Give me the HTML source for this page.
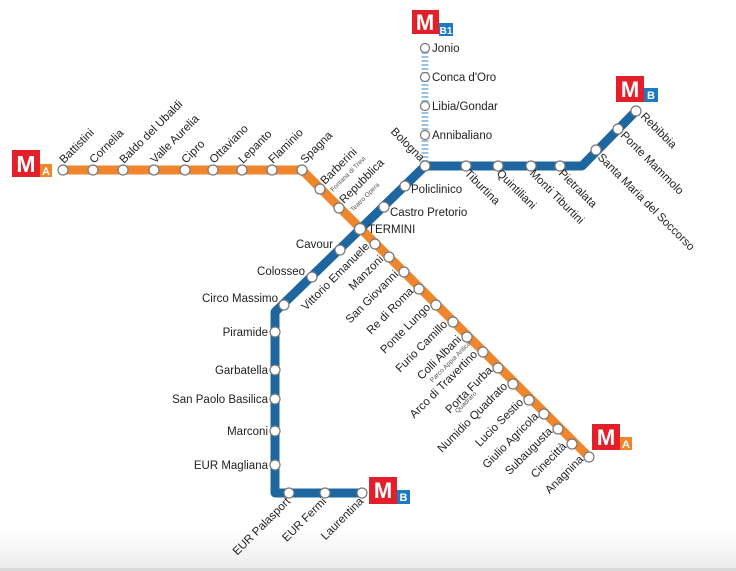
<!DOCTYPE html>
<html><head><meta charset="utf-8"><style>
html,body{margin:0;padding:0;background:#fff;}
svg{display:block;}
text{font-family:"Liberation Sans",Arial,sans-serif;fill:#222;}
</style></head><body>
<svg width="736" height="571" viewBox="0 0 736 571" xmlns="http://www.w3.org/2000/svg">
<defs>
<linearGradient id="bg" x1="0" y1="0" x2="0" y2="1">
<stop offset="0" stop-color="#fff"/><stop offset="1" stop-color="#ececec"/>
</linearGradient>
</defs>
<rect x="0" y="530" width="736" height="38" fill="url(#bg)"/>
<rect x="0" y="568" width="736" height="3" fill="#d8d8d8"/>

<!-- B1 dashed -->
<line x1="425" y1="48" x2="425" y2="166" stroke="#9cc3de" stroke-width="7" stroke-dasharray="2,2"/>

<!-- Line A -->
<polyline points="63,170 302,170 589,457" fill="none" stroke="#f0862c" stroke-width="9" stroke-linejoin="round"/>
<!-- Line B -->
<polyline points="362,493 275,493 275,312 425,166 582,166 636,111" fill="none" stroke="#1d66a0" stroke-width="9" stroke-linejoin="round"/>

<g fill="#fff" stroke="#777" stroke-width="1.2">
<circle cx="63" cy="170" r="5"/><circle cx="93" cy="170" r="5"/><circle cx="123" cy="170" r="5"/><circle cx="154" cy="170" r="5"/><circle cx="185" cy="170" r="5"/><circle cx="213" cy="170" r="5"/><circle cx="242" cy="170" r="5"/><circle cx="272" cy="170" r="5"/><circle cx="302" cy="170" r="5"/>
<circle cx="320" cy="189" r="5"/><circle cx="339" cy="208" r="5"/><circle cx="360" cy="229" r="5.5"/>
<circle cx="375" cy="244" r="5"/><circle cx="389" cy="257" r="5"/><circle cx="404" cy="272" r="5"/><circle cx="419" cy="289" r="5"/><circle cx="436" cy="305" r="5"/><circle cx="453" cy="322" r="5"/><circle cx="467" cy="337" r="5"/><circle cx="483" cy="352" r="5"/><circle cx="498" cy="368" r="5"/><circle cx="513" cy="384" r="5"/><circle cx="529" cy="400" r="5"/><circle cx="544" cy="414" r="5"/><circle cx="558" cy="429" r="5"/><circle cx="572" cy="444" r="5"/><circle cx="589" cy="457" r="5"/>
<circle cx="340" cy="250" r="5"/><circle cx="312" cy="277" r="5"/><circle cx="284" cy="305" r="5"/>
<circle cx="275" cy="332" r="5"/><circle cx="275" cy="370" r="5"/><circle cx="275" cy="399" r="5"/><circle cx="275" cy="431" r="5"/><circle cx="275" cy="465" r="5"/>
<circle cx="289" cy="493" r="5"/><circle cx="325" cy="493" r="5"/><circle cx="362" cy="493" r="5"/>
<circle cx="384" cy="207" r="5"/><circle cx="405" cy="186" r="5"/><circle cx="425" cy="166" r="5"/>
<circle cx="466" cy="166" r="5"/><circle cx="498" cy="166" r="5"/><circle cx="531" cy="166" r="5"/><circle cx="560" cy="166" r="5"/>
<circle cx="596" cy="150" r="5"/><circle cx="618" cy="129" r="5"/><circle cx="636" cy="111" r="5"/>
<circle cx="425" cy="48" r="4.5"/><circle cx="425" cy="77" r="4.5"/><circle cx="425" cy="106" r="4.5"/><circle cx="425" cy="135" r="4.5"/>
</g>

<g font-family="Liberation Sans,Arial,sans-serif" font-weight="bold">
<rect x="12" y="150" width="28" height="27" fill="#e3202a"/><text x="26" y="172" text-anchor="middle" font-size="23" style="fill:#fff">M</text>
<rect x="40" y="164" width="12" height="13" fill="#f0862c"/><text x="46" y="175" text-anchor="middle" font-size="11" style="fill:#fff">A</text>
<rect x="412" y="10" width="27" height="24" fill="#e3202a"/><text x="425" y="30" text-anchor="middle" font-size="22" style="fill:#fff">M</text>
<rect x="439" y="23" width="14" height="13" fill="#1d7ac0"/><text x="446" y="34" text-anchor="middle" font-size="10" style="fill:#fff">B1</text>
<rect x="616" y="76" width="28" height="26" fill="#e3202a"/><text x="630" y="97" text-anchor="middle" font-size="22" style="fill:#fff">M</text>
<rect x="644" y="88" width="14" height="14" fill="#1d7ac0"/><text x="651" y="99" text-anchor="middle" font-size="11" style="fill:#fff">B</text>
<rect x="592" y="424" width="28" height="26" fill="#e3202a"/><text x="606" y="445" text-anchor="middle" font-size="22" style="fill:#fff">M</text>
<rect x="620" y="437" width="12" height="13" fill="#f0862c"/><text x="626" y="448" text-anchor="middle" font-size="11" style="fill:#fff">A</text>
<rect x="369" y="477" width="28" height="27" fill="#e3202a"/><text x="383" y="498" text-anchor="middle" font-size="22" style="fill:#fff">M</text>
<rect x="397" y="490" width="13" height="14" fill="#1d7ac0"/><text x="403.5" y="501" text-anchor="middle" font-size="11" style="fill:#fff">B</text>
</g>

<g font-size="11.5">
<text transform="translate(64,164) rotate(-45)">Battistini</text>
<text transform="translate(94,164) rotate(-45)">Cornelia</text>
<text transform="translate(124,164) rotate(-45)">Baldo del Ubaldi</text>
<text transform="translate(155,164) rotate(-45)">Valle Aurelia</text>
<text transform="translate(186,164) rotate(-45)">Cipro</text>
<text transform="translate(214,164) rotate(-45)">Ottaviano</text>
<text transform="translate(243,164) rotate(-45)">Lepanto</text>
<text transform="translate(273,164) rotate(-45)">Flaminio</text>
<text transform="translate(305,164) rotate(-45)">Spagna</text>
<text transform="translate(325,185) rotate(-45)">Barberini</text>
<text transform="translate(333,192) rotate(-45)" font-size="6.5" style="fill:#555">Fontana di Trevi</text>
<text transform="translate(344,204) rotate(-45)">Repubblica</text>
<text transform="translate(353,212) rotate(-45)" font-size="6.5" style="fill:#555">Teatro Opera</text>
<text x="368" y="233">TERMINI</text>
<text transform="translate(370,247) rotate(-45)" text-anchor="end">Vittorio Emanuele</text>
<text transform="translate(384,260) rotate(-45)" text-anchor="end">Manzoni</text>
<text transform="translate(399,275) rotate(-45)" text-anchor="end">San Giovanni</text>
<text transform="translate(414,292) rotate(-45)" text-anchor="end">Re di Roma</text>
<text transform="translate(431,308) rotate(-45)" text-anchor="end">Ponte Lungo</text>
<text transform="translate(448,325) rotate(-45)" text-anchor="end">Furio Camillo</text>
<text transform="translate(462,340) rotate(-45)" text-anchor="end">Colli Albani</text>
<text transform="translate(471,344) rotate(-45)" text-anchor="end" font-size="6.5" style="fill:#555">Parco Appia Antica</text>
<text transform="translate(478,355) rotate(-45)" text-anchor="end">Arco di Travertino</text>
<text transform="translate(493,371) rotate(-45)" text-anchor="end">Porta Furba</text>
<text transform="translate(477,394) rotate(-45)" text-anchor="end" font-size="6.5" style="fill:#555">Quadraro</text>
<text transform="translate(508,387) rotate(-45)" text-anchor="end">Numidio Quadrato</text>
<text transform="translate(524,403) rotate(-45)" text-anchor="end">Lucio Sestio</text>
<text transform="translate(539,417) rotate(-45)" text-anchor="end">Giulio Agricola</text>
<text transform="translate(553,432) rotate(-45)" text-anchor="end">Subaugusta</text>
<text transform="translate(567,447) rotate(-45)" text-anchor="end">Cinecittà</text>
<text transform="translate(584,460) rotate(-45)" text-anchor="end">Anagnina</text>
<text x="333" y="248" text-anchor="end">Cavour</text>
<text x="305" y="275" text-anchor="end">Colosseo</text>
<text x="278" y="302" text-anchor="end">Circo Massimo</text>
<text x="268" y="336" text-anchor="end">Piramide</text>
<text x="268" y="374" text-anchor="end">Garbatella</text>
<text x="268" y="403" text-anchor="end">San Paolo Basilica</text>
<text x="268" y="435" text-anchor="end">Marconi</text>
<text x="268" y="469" text-anchor="end">EUR Magliana</text>
<text transform="translate(291,502) rotate(-45)" text-anchor="end">EUR Palasport</text>
<text transform="translate(327,502) rotate(-45)" text-anchor="end">EUR Fermi</text>
<text transform="translate(364,502) rotate(-45)" text-anchor="end">Laurentina</text>
<text x="390" y="216">Castro Pretorio</text>
<text x="411" y="193">Policlinico</text>
<text transform="translate(420,162) rotate(45)" text-anchor="end">Bologna</text>
<text transform="translate(464,174) rotate(45)">Tiburtina</text>
<text transform="translate(496,174) rotate(45)">Quintiliani</text>
<text transform="translate(529,174) rotate(45)">Monti Tiburtini</text>
<text transform="translate(558,174) rotate(45)">Pietralata</text>
<text transform="translate(597,158) rotate(45)">Santa Maria del Soccorso</text>
<text transform="translate(620,136) rotate(45)">Ponte Mammolo</text>
<text transform="translate(640,117) rotate(45)">Rebibbia</text>
<text x="432" y="52">Jonio</text>
<text x="432" y="81">Conca d'Oro</text>
<text x="432" y="110">Libia/Gondar</text>
<text x="432" y="139">Annibaliano</text>
</g>
</svg>
</body></html>
